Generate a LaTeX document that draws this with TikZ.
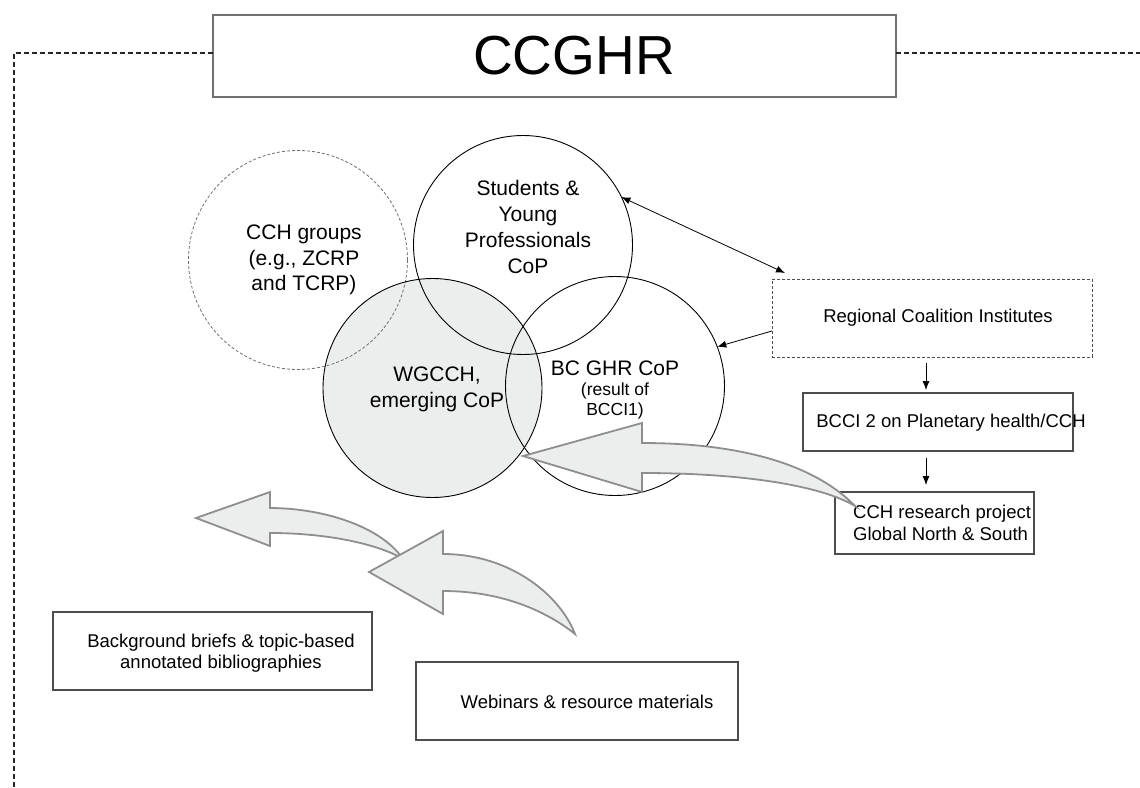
\documentclass[tikz,border=0pt]{standalone}
\usepackage{fontspec}
\setmainfont{Liberation Sans}
\usetikzlibrary{arrows.meta}
\definecolor{arrowfill}{HTML}{ECEDED}
\definecolor{arrowline}{HTML}{8E8E8E}
\definecolor{boxline}{HTML}{4D4D4D}
\definecolor{dashgray}{HTML}{707070}
\tikzset{
 circ/.style={circle, draw=black, line width=0.9pt, minimum size=219pt, inner sep=0pt, outer sep=0pt},
 txt/.style={inner sep=0pt, align=center, font=\fontsize{21}{25.7}\selectfont},
 smalltxt/.style={inner sep=0pt, font=\fontsize{18.5}{21.5}\selectfont},
 box/.style={draw=boxline, line width=1.2pt, inner sep=0pt, outer sep=0pt},
 blockarrow/.style={fill=arrowfill, draw=arrowline, line width=1.8pt, line join=miter},
 conn/.style={-{Latex[length=9pt,width=7pt]}, line width=0.8pt},
 frame/.style={draw=black!85, line width=1.2pt, dash pattern=on 5pt off 3pt},
}
\begin{document}
\begin{tikzpicture}[x=1pt,y=-1pt]
\useasboundingbox (0,0) rectangle (1140,787);

% title and frame
\node[box, draw=boxline!80, minimum width=683pt, minimum height=82pt] (title) at (554.5,56) {};
\node[inner sep=0pt, font=\fontsize{55}{60}\selectfont] (titletext) at (574,56) {CCGHR};
\draw[frame] ([yshift=3pt]title.west) -| (14,787);
\draw[frame] ([yshift=3pt]title.east) -- (1140,53);

% circles
\node[circ, fill=arrowfill, draw=none] (wgfill) at (432.5,388) {};
\node[circ, draw=dashgray, line width=0.8pt, dash pattern=on 3pt off 2pt] (cch) at (298,260) {};
\node[circ] (stu) at (523,245) {};
\node[circ] (wg) at (432.5,388) {};
\node[circ] (bc) at (615,386) {};

\node[txt] (cchtext) at (304,260) {CCH groups\\(e.g., ZCRP\\and TCRP)};
\node[txt] (stutext) at (528,227) {Students \&\\Young\\Professionals\\CoP};
\node[txt] (wgtext) at (437,389) {WGCCH,\\emerging CoP};
\node[txt] (bctext) at (615,368) {BC GHR CoP};
\node[inner sep=0pt, align=center, font=\fontsize{17.5}{20}\selectfont] (bcsub) at (615,401) {(result of\\BCCI1)};

% right-hand boxes
\node[box, dash pattern=on 3pt off 2pt, line width=1pt, minimum width=320pt, minimum height=78pt] (rci) at (932,318) {};
\node[smalltxt] (rcitext) at (938,318) {Regional Coalition Institutes};
\node[box, minimum width=270pt, minimum height=58pt] (bcci) at (938,422) {};
\node[smalltxt] (bccitext) at (951,423) {BCCI 2 on Planetary health/CCH};
\node[box, minimum width=199pt, minimum height=62pt] (cchr) at (934.5,523) {};
\node[smalltxt, anchor=west, align=left] (cchrtext) at (853,523) {CCH research project\\Global North \& South};

% bottom boxes
\node[box, minimum width=319pt, minimum height=78pt] (bg) at (212.5,651) {};
\node[smalltxt, align=center] (bgtext) at (221,653) {Background briefs \& topic-based\\annotated bibliographies};
\node[box, minimum width=322pt, minimum height=78pt] (web) at (577,701) {};
\node[smalltxt] (webtext) at (587,702) {Webinars \& resource materials};

% thin connectors
\coordinate (rcitop) at ([xshift=13pt,yshift=6pt]rci.north west);
\draw[conn, {Latex[length=9pt,width=7pt]}-{Latex[length=9pt,width=7pt]}] (stu.26) -- (rcitop);
\draw[conn] ([yshift=-13pt]rci.west) -- (bc.21);
\draw[conn] ([xshift=-6pt,yshift=-6pt]rci.south) -- ([xshift=-12pt,yshift=3pt]bcci.north);
\draw[conn] ([xshift=-12pt,yshift=-7pt]bcci.south) -- ([xshift=-8.5pt,yshift=7pt]cchr.north);

% block arrows
\path[blockarrow] (523,456) -- (642,423) -- (642,443)
  .. controls (730,443) and (810,460) .. (855,506)
  .. controls (820,485) and (740,473) .. (642,473)
  -- (642,492) -- cycle;
\path[blockarrow] (196,518) -- (270,492) -- (270,508)
  .. controls (320,508) and (380,525) .. (403,559)
  .. controls (380,545) and (330,533) .. (270,533)
  -- (270,546) -- cycle;
\path[blockarrow] (369,572) -- (443,531) -- (443,554)
  .. controls (510,554) and (560,595) .. (575,634)
  .. controls (545,610) and (500,591) .. (443,591)
  -- (443,614) -- cycle;
\end{tikzpicture}
\end{document}
